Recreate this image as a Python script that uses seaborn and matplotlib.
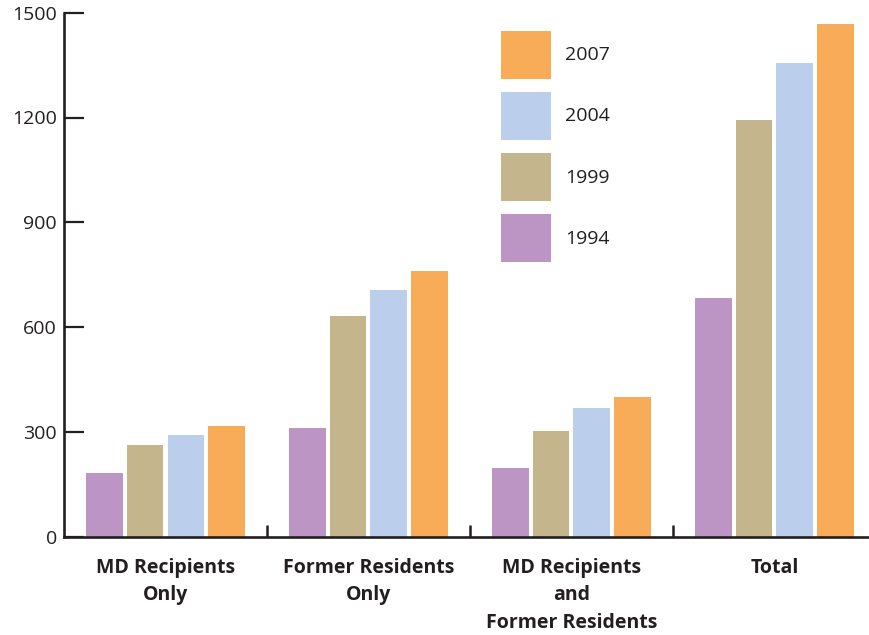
import matplotlib.pyplot as plt
import pandas as pd
import seaborn as sns
from matplotlib.patches import Patch

# Datos
categories = ['MD Recipients\nOnly', 'Former Residents\nOnly',
              'MD Recipients\nand\nFormer Residents', 'Total']
years = ['1994', '1999', '2004', '2007']
v1994 = [183, 311, 196, 682]
v1999 = [262, 633, 302, 1193]
v2004 = [291, 705, 368, 1356]
v2007 = [317, 762, 399, 1468]
colors = ['#bd95c4', '#c4b58d', '#bbcfec', '#f9ac58']
yticks = [0, 300, 600, 900, 1200, 1500]

df = pd.DataFrame({'category': categories, '1994': v1994, '1999': v1999,
                   '2004': v2004, '2007': v2007})
df = df.melt(id_vars='category', var_name='year', value_name='value')

sns.set_theme(style='white')
plt.rcParams['font.family'] = ['Open Sans', 'DejaVu Sans']
ink = '#231f20'

fig = plt.figure(figsize=(8.69, 6.35), dpi=100)
ax = fig.add_axes([64 / 869, 98.3 / 635, 1 - 64 / 869, 524 / 635])

sns.barplot(data=df, x='category', y='value', hue='year', hue_order=years,
            palette=dict(zip(years, colors)), width=0.8, gap=0.1,
            saturation=1, linewidth=0, legend=False, ax=ax)

ax.set_xlim(-0.5, 3.466)
ax.set_ylim(0, 1500)
ax.set_yticks(yticks)
ax.set_xlabel('')
ax.set_ylabel('')

# Ejes
sns.despine(ax=ax)
for side in ['left', 'bottom']:
    ax.spines[side].set_linewidth(1.9)
    ax.spines[side].set_color(ink)

ax.tick_params(axis='y', direction='in', length=14.5, width=1.6, color=ink,
               labelsize=14, labelcolor=ink, pad=5, left=True)
ax.tick_params(axis='x', which='major', length=0, pad=15, labelsize=14,
               labelcolor=ink)
ax.set_xticks([0.5, 1.5, 2.5], minor=True)
ax.tick_params(axis='x', which='minor', direction='in', length=9, width=1.8,
               color=ink, bottom=True)
for lbl in ax.get_xticklabels():
    lbl.set_fontweight('bold')
    lbl.set_linespacing(1.5)

# Leyenda (orden inverso)
handles = [Patch(facecolor=c, edgecolor='none', label=y) for y, c in zip(years, colors)]
ax.legend(handles=handles[::-1], loc='upper left',
          bbox_to_anchor=(501 / 869, 1 - 31 / 635), bbox_transform=fig.transFigure,
          frameon=False, borderpad=0, borderaxespad=0, handlelength=2.57,
          handleheight=3.42, labelspacing=0.67, handletextpad=0.72,
          fontsize=14, labelcolor=ink)

fig.savefig('out.png', dpi=100)
